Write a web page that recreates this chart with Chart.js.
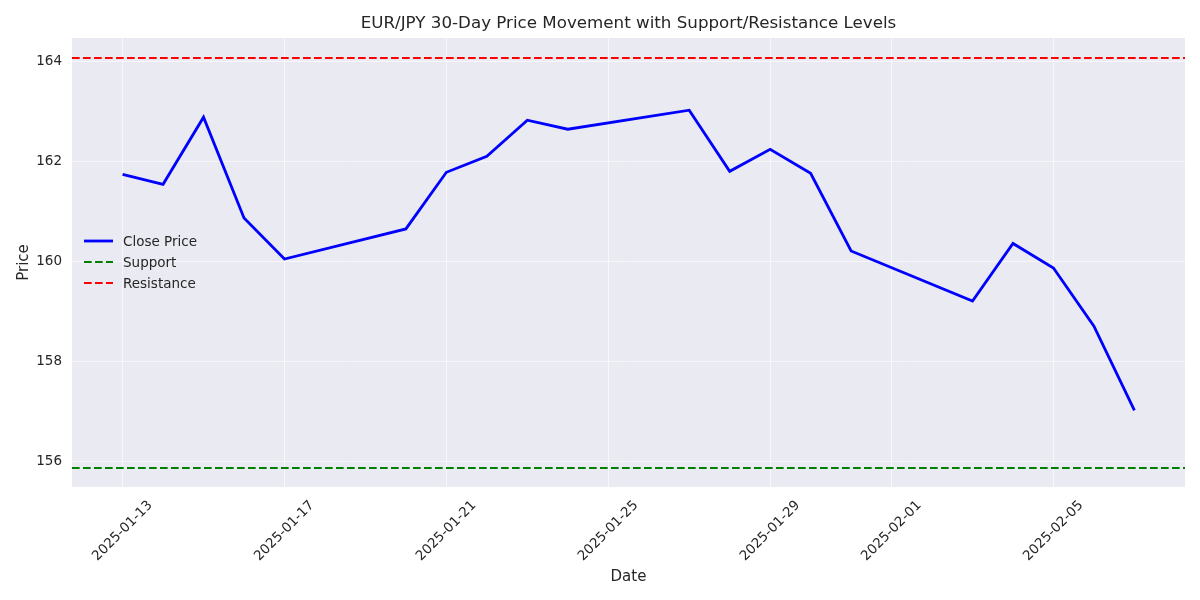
<!DOCTYPE html>
<html>
<head>
<meta charset="utf-8">
<script src="https://cdn.jsdelivr.net/npm/chart.js@4.4.0/dist/chart.umd.min.js"></script>
<style>
html,body{margin:0;padding:0;background:#fff;}
#wrap{width:1200px;height:600px;}
</style>
</head>
<body>
<div id="wrap"><canvas id="c" width="1200" height="600"></canvas></div>
<script>
const dates = ["2025-01-13","2025-01-14","2025-01-15","2025-01-16","2025-01-17",
  "2025-01-20","2025-01-21","2025-01-22","2025-01-23","2025-01-24",
  "2025-01-27","2025-01-28","2025-01-29","2025-01-30","2025-01-31",
  "2025-02-03","2025-02-04","2025-02-05","2025-02-06","2025-02-07"];
const closePrice = [161.74,161.54,162.88,160.87,160.05,
  160.65,161.78,162.10,162.82,162.64,
  163.02,161.80,162.24,161.76,160.21,
  159.21,160.36,159.87,158.71,157.03];
const supportLevel = 155.88;
const resistanceLevel = 164.06;
const xTickDates = ["2025-01-13","2025-01-17","2025-01-21","2025-01-25","2025-01-29","2025-02-01","2025-02-05"];
const yTickValues = [156,158,160,162,164];
const xRangeDates = ["2025-01-11T18:00:00Z","2025-02-08T06:00:00Z"];
const yRange = [155.5, 164.46];
const chartTitle = 'EUR/JPY 30-Day Price Movement with Support/Resistance Levels';

const DAY = 86400000;
const base = Date.parse(dates[0] + "T00:00:00Z");
const toDay = s => (Date.parse(s.length > 10 ? s : s + "T00:00:00Z") - base) / DAY;
const fmt = d => new Date(base + Math.round(d * DAY)).toISOString().slice(0, 10);
const xMin = toDay(xRangeDates[0]), xMax = toDay(xRangeDates[1]);

const FONT = "'DejaVu Sans', sans-serif";
const TXT = "#262626";

const legendPlugin = {
  id: 'inLegend',
  afterDraw(chart) {
    const ctx = chart.ctx;
    const items = chart.data.datasets.map(d => ({label: d.label, color: d.borderColor, dash: d.borderDash || [], w: d.borderWidth}));
    const x0 = 84, x1 = 113, tx = 123;
    const ys = [241, 262, 283];
    ctx.save();
    ctx.font = "13.5px " + FONT;
    ctx.textBaseline = 'middle';
    items.forEach((it, i) => {
      ctx.beginPath();
      ctx.strokeStyle = it.color;
      ctx.lineWidth = it.w;
      ctx.setLineDash(it.dash);
      ctx.moveTo(x0, ys[i]);
      ctx.lineTo(x1, ys[i]);
      ctx.stroke();
      ctx.setLineDash([]);
      ctx.fillStyle = TXT;
      ctx.fillText(it.label, tx, ys[i] + 1);
    });
    ctx.restore();
  }
};

const bgPlugin = {
  id: 'plotBg',
  beforeDraw(chart) {
    const a = chart.chartArea, ctx = chart.ctx;
    ctx.save();
    ctx.fillStyle = '#EAEAF2';
    ctx.fillRect(a.left, a.top, a.right - a.left, a.bottom - a.top);
    ctx.restore();
  }
};

const textPlugin = {
  id: 'texts',
  afterDraw(chart) {
    const a = chart.chartArea, ctx = chart.ctx;
    ctx.save();
    ctx.fillStyle = TXT;
    ctx.font = "16.7px " + FONT;
    ctx.textAlign = 'center';
    ctx.textBaseline = 'middle';
    ctx.fillText(chartTitle, (a.left + a.right) / 2, 24);
    const xs = chart.scales.x;
    ctx.font = "13.5px " + FONT;
    xs.ticks.forEach(t => {
      const px = xs.getPixelForValue(t.value);
      ctx.save();
      ctx.translate(px, a.bottom + 44);
      ctx.rotate(-Math.PI / 4);
      ctx.fillText(fmt(t.value), 0, 0);
      ctx.restore();
    });
    ctx.restore();
  }
};

new Chart(document.getElementById('c'), {
  type: 'line',
  data: {
    datasets: [
      {
        label: 'Close Price',
        data: dates.map((d, i) => ({x: toDay(d), y: closePrice[i]})),
        borderColor: '#0000FF',
        borderWidth: 2.8,
        pointRadius: 0,
        tension: 0,
        fill: false
      },
      {
        label: 'Support',
        data: [{x: xMin, y: supportLevel}, {x: xMax, y: supportLevel}],
        borderColor: '#008000',
        borderWidth: 2.1,
        borderDash: [7.7, 3.3],
        pointRadius: 0,
        fill: false
      },
      {
        label: 'Resistance',
        data: [{x: xMin, y: resistanceLevel}, {x: xMax, y: resistanceLevel}],
        borderColor: '#FF0000',
        borderWidth: 2.1,
        borderDash: [7.7, 3.3],
        pointRadius: 0,
        fill: false
      }
    ]
  },
  options: {
    responsive: false,
    animation: false,
    layout: {padding: {left: 0, right: 15, top: 38, bottom: 0}},
    plugins: {
      legend: {display: false},
      tooltip: {enabled: false},
      title: {display: false}
    },
    scales: {
      x: {
        type: 'linear',
        min: xMin,
        max: xMax,
        afterBuildTicks: s => { s.ticks = xTickDates.map(d => ({value: toDay(d)})); },
        afterFit: s => { s.height = 113; },
        grid: {color: 'rgba(255,255,255,0.6)', lineWidth: 1, drawTicks: false},
        border: {display: false},
        ticks: {
          display: false,
          callback: v => fmt(v),
          autoSkip: false
        },
        title: {display: true, text: 'Date', color: TXT, font: {family: FONT, size: 15}, padding: {top: 4, bottom: 14}}
      },
      y: {
        type: 'linear',
        min: yRange[0],
        max: yRange[1],
        afterBuildTicks: s => { s.ticks = yTickValues.map(v => ({value: v})); },
        afterFit: s => { s.width = 72; },
        grid: {color: 'rgba(255,255,255,0.6)', lineWidth: 1, drawTicks: false},
        border: {display: false},
        ticks: {
          callback: v => String(v),
          color: TXT,
          font: {family: FONT, size: 13.5},
          padding: 10
        },
        title: {display: true, text: 'Price', color: TXT, font: {family: FONT, size: 15}, padding: {top: 15, bottom: 4}}
      }
    }
  },
  plugins: [bgPlugin, legendPlugin, textPlugin]
});
</script>
</body>
</html>
